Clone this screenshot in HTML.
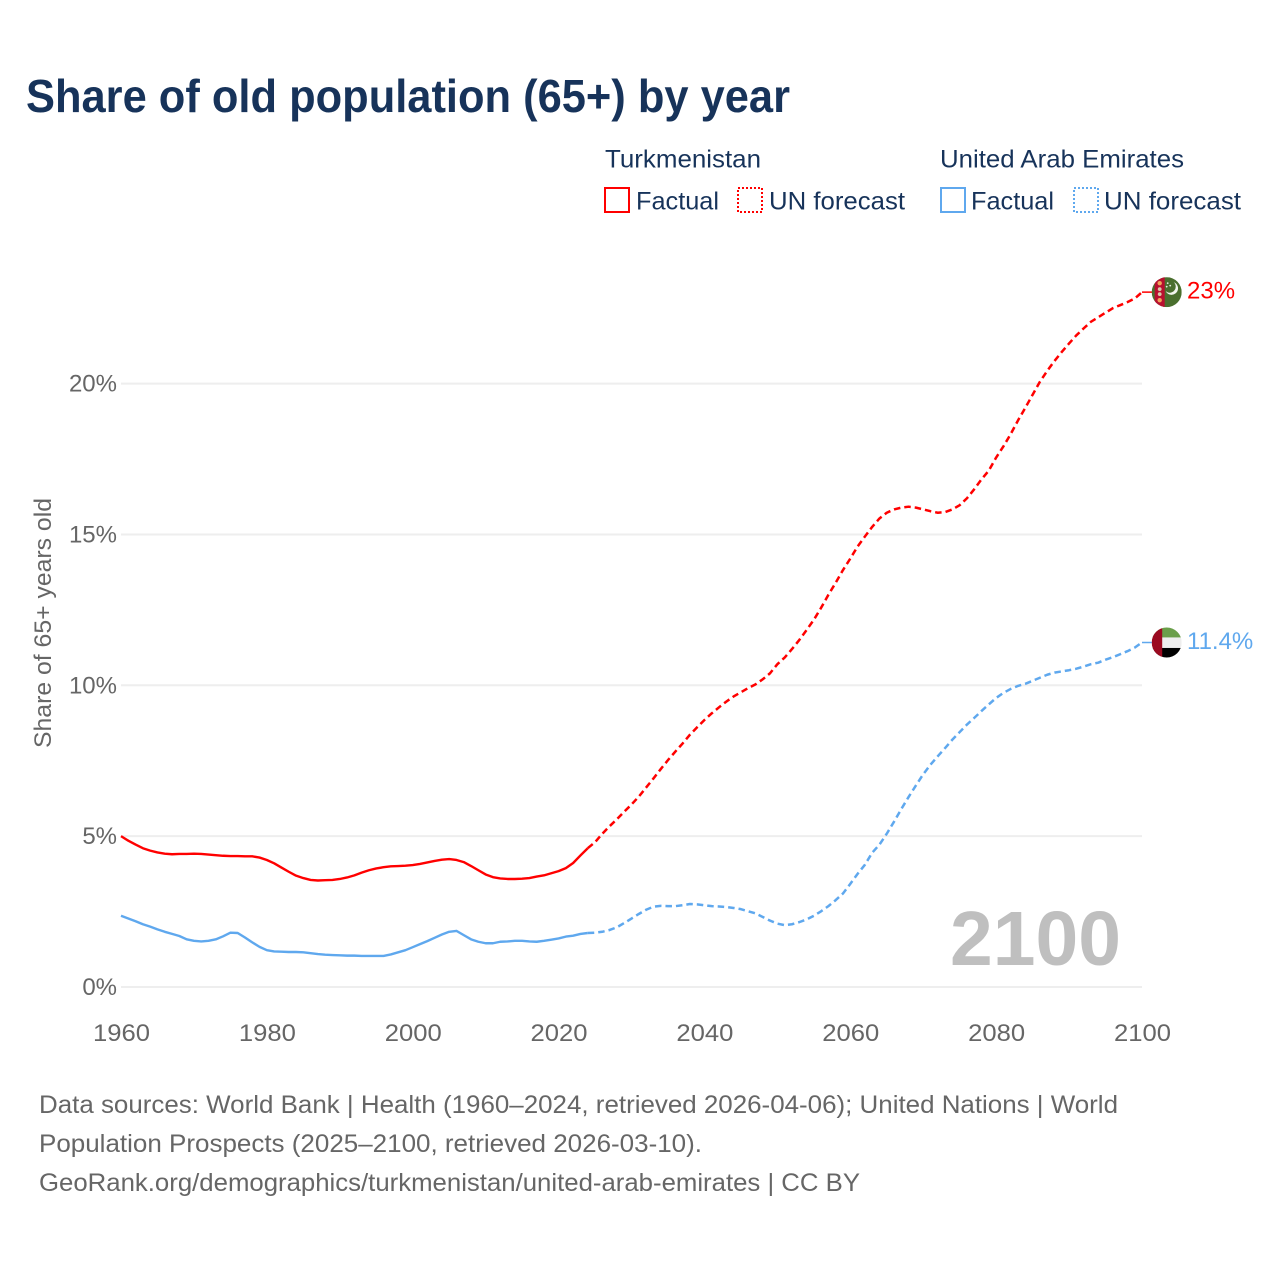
<!DOCTYPE html>
<html lang="en">
<head>
<meta charset="utf-8">
<title>Share of old population (65+) by year</title>
<style>
  html, body { margin: 0; padding: 0; background: #ffffff; }
  body { width: 1280px; height: 1280px; overflow: hidden; }
  svg { display: block; }
  text { font-family: "Liberation Sans", sans-serif; }
  .navy { fill: #17335a; }
  .grey { fill: #666666; }
</style>
</head>
<body>
<svg id="chart" xmlns="http://www.w3.org/2000/svg" width="1280" height="1280" viewBox="0 0 1280 1280">
  <defs>
    <clipPath id="flag-clip"><circle cx="0" cy="0" r="15"></circle></clipPath>
  </defs>

  <text class="navy" x="26" y="112" font-size="46" font-weight="700" textLength="764" lengthAdjust="spacingAndGlyphs">Share of old population (65+) by year</text>

  <g>
    <text class="navy" x="605" y="167.5" font-size="25" textLength="156" lengthAdjust="spacingAndGlyphs">Turkmenistan</text>
    <text class="navy" x="940" y="167.5" font-size="25" textLength="244" lengthAdjust="spacingAndGlyphs">United Arab Emirates</text>

    <rect x="605" y="188" width="24" height="24" fill="none" stroke="#ff0000" stroke-width="2"></rect>
    <text class="navy" x="636" y="209.5" font-size="25" textLength="83" lengthAdjust="spacingAndGlyphs">Factual</text>
    <rect x="738" y="188" width="24" height="24" fill="none" stroke="#ff0000" stroke-width="2" stroke-dasharray="2 2"></rect>
    <text class="navy" x="769" y="209.5" font-size="25" textLength="136" lengthAdjust="spacingAndGlyphs">UN forecast</text>

    <rect x="941" y="188" width="24" height="24" fill="none" stroke="#5fa8ee" stroke-width="2"></rect>
    <text class="navy" x="971" y="209.5" font-size="25" textLength="83" lengthAdjust="spacingAndGlyphs">Factual</text>
    <rect x="1074" y="188" width="24" height="24" fill="none" stroke="#5fa8ee" stroke-width="2" stroke-dasharray="2 2"></rect>
    <text class="navy" x="1104" y="209.5" font-size="25" textLength="137" lengthAdjust="spacingAndGlyphs">UN forecast</text>
  </g>

  <text class="grey" transform="translate(51 748) rotate(-90)" x="0" y="0" font-size="24" textLength="250" lengthAdjust="spacingAndGlyphs">Share of 65+ years old</text>

  <g id="grid-layer"></g>
  <g id="y-tick-layer"></g>
  <g id="x-tick-layer"></g>

  <text x="950" y="965" font-size="77" font-weight="700" fill="#bfbfbf" textLength="171" lengthAdjust="spacingAndGlyphs">2100</text>

  <g id="series-layer"></g>

  <g id="flag-turkmenistan">
    <g clip-path="url(#flag-clip)">
      <rect x="-15" y="-15" width="30" height="30" fill="#4a6f2e"></rect>
      <rect x="-12" y="-15" width="10" height="30" fill="#b8102f"></rect>
      <circle cx="-7" cy="-9" r="2.2" fill="#f0a35a"></circle>
      <circle cx="-7" cy="-3" r="1.9" fill="#d9c7a8"></circle>
      <circle cx="-7" cy="2" r="1.9" fill="#d9c7a8"></circle>
      <circle cx="-7" cy="8" r="2.2" fill="#f0a35a"></circle>
      <path d="M7 -10 A6.5 6.5 0 1 1 -1 -1 A6 6 0 0 0 7 -10 Z" fill="#f2f5ee"></path>
      <circle cx="1" cy="-9" r="0.9" fill="#e6ece0"></circle>
      <circle cx="3.5" cy="-6.5" r="0.9" fill="#e6ece0"></circle>
      <circle cx="0" cy="-5.5" r="0.9" fill="#e6ece0"></circle>
    </g>
  </g>

  <g id="flag-uae">
    <g clip-path="url(#flag-clip)">
      <rect x="-15" y="-15" width="30" height="10" fill="#6a9f4a"></rect>
      <rect x="-15" y="-5" width="30" height="10.5" fill="#eeeeee"></rect>
      <rect x="-15" y="5.5" width="30" height="10" fill="#000000"></rect>
      <rect x="-15" y="-15" width="10.5" height="30" fill="#9b0a20"></rect>
    </g>
  </g>

  <g id="end-label-layer"></g>

  <g>
    <text class="grey" x="39" y="1113" font-size="25" textLength="1079" lengthAdjust="spacingAndGlyphs">Data sources: World Bank | Health (1960–2024, retrieved 2026-04-06); United Nations | World</text>
    <text class="grey" x="39" y="1152" font-size="25" textLength="663" lengthAdjust="spacingAndGlyphs">Population Prospects (2025–2100, retrieved 2026-03-10).</text>
    <text class="grey" x="39" y="1191" font-size="25" textLength="821" lengthAdjust="spacingAndGlyphs">GeoRank.org/demographics/turkmenistan/united-arab-emirates | CC BY</text>
  </g>
</svg>

<script>
const xTickYears = [1960, 1980, 2000, 2020, 2040, 2060, 2080, 2100];
const yTickValues = [0, 5, 10, 15, 20];
const yTickLabels = ["0%", "5%", "10%", "15%", "20%"];
const factualStartYear = 1960;
const forecastStartYear = 2024;
const turkmenistanFactual = [
  5.00, 4.85, 4.72, 4.60, 4.52, 4.46, 4.42, 4.40, 4.41, 4.41,
  4.42, 4.41, 4.39, 4.37, 4.35, 4.34, 4.34, 4.33, 4.33, 4.29,
  4.21, 4.10, 3.96, 3.82, 3.69, 3.61, 3.55, 3.53, 3.54, 3.55,
  3.58, 3.63, 3.70, 3.79, 3.87, 3.93, 3.97, 4.00, 4.01, 4.02,
  4.04, 4.08, 4.13, 4.18, 4.22, 4.24, 4.21, 4.14, 4.01, 3.87,
  3.73, 3.64, 3.60, 3.58, 3.58, 3.59, 3.61, 3.66, 3.70, 3.77,
  3.84, 3.94, 4.11, 4.36, 4.60
];
const turkmenistanForecast = [
  4.60, 4.80, 5.08, 5.33, 5.56, 5.81, 6.05, 6.31, 6.61, 6.91,
  7.22, 7.52, 7.80, 8.07, 8.36, 8.61, 8.85, 9.07, 9.27, 9.46,
  9.63, 9.77, 9.91, 10.03, 10.20, 10.40, 10.70, 10.92, 11.20, 11.50,
  11.83, 12.17, 12.57, 13.00, 13.40, 13.82, 14.20, 14.60, 14.93, 15.25,
  15.53, 15.72, 15.83, 15.89, 15.92, 15.89, 15.83, 15.77, 15.72, 15.74,
  15.83, 15.97, 16.20, 16.50, 16.83, 17.12, 17.55, 17.92, 18.33, 18.78,
  19.20, 19.63, 20.06, 20.42, 20.75, 21.05, 21.33, 21.60, 21.83, 22.05,
  22.20, 22.35, 22.50, 22.60, 22.70, 22.82, 23.03
];
const uaeFactual = [
  2.36, 2.27, 2.18, 2.08, 2.00, 1.91, 1.83, 1.76, 1.69, 1.58,
  1.53, 1.51, 1.53, 1.58, 1.68, 1.80, 1.79, 1.64, 1.48, 1.33,
  1.22, 1.18, 1.17, 1.16, 1.16, 1.15, 1.12, 1.09, 1.07, 1.06,
  1.05, 1.04, 1.04, 1.03, 1.03, 1.03, 1.03, 1.08, 1.15, 1.22,
  1.32, 1.42, 1.52, 1.63, 1.74, 1.83, 1.86, 1.72, 1.58, 1.50,
  1.45, 1.45, 1.50, 1.51, 1.53, 1.53, 1.51, 1.50, 1.53, 1.57,
  1.61, 1.67, 1.70, 1.76, 1.79
];
const uaeForecast = [
  1.79, 1.80, 1.83, 1.89, 1.98, 2.12, 2.27, 2.42, 2.56, 2.66,
  2.69, 2.68, 2.68, 2.71, 2.75, 2.74, 2.71, 2.68, 2.67, 2.65,
  2.62, 2.58, 2.51, 2.44, 2.32, 2.20, 2.10, 2.05, 2.08, 2.15,
  2.24, 2.36, 2.51, 2.68, 2.88, 3.10, 3.42, 3.75, 4.05, 4.45,
  4.72, 5.08, 5.48, 5.90, 6.30, 6.68, 7.05, 7.37, 7.65, 7.92,
  8.20, 8.45, 8.70, 8.92, 9.15, 9.37, 9.58, 9.75, 9.88, 9.98,
  10.05, 10.15, 10.25, 10.35, 10.42, 10.46, 10.50, 10.55, 10.62, 10.70,
  10.75, 10.85, 10.93, 11.03, 11.13, 11.25, 11.42
];
const turkmenistanEndLabel = "23%";
const uaeEndLabel = "11.4%";

const SVG_NS = "http://www.w3.org/2000/svg";
const RED = "#ff0000";
const BLUE = "#5fa8ee";
const FLAG_X = 1166.7;

function xScale(year) {
  return 121 + (year - 1960) * (1142 - 121) / 140;
}
function yScale(value) {
  return 987 - value * 30.17;
}
function pathFrom(values, startYear) {
  return values.map(function (v, i) {
    return (i === 0 ? "M" : "L") + xScale(startYear + i).toFixed(2) + " " + yScale(v).toFixed(2);
  }).join(" ");
}

const gridLayer = document.getElementById("grid-layer");
const yTickLayer = document.getElementById("y-tick-layer");
const xTickLayer = document.getElementById("x-tick-layer");
const seriesLayer = document.getElementById("series-layer");
const endLabelLayer = document.getElementById("end-label-layer");

yTickValues.forEach(function (value, i) {
  const line = document.createElementNS(SVG_NS, "line");
  
  
  line.setAttribute("x1", xScale(1960));
  line.setAttribute("x2", xScale(2100));
  line.setAttribute("y1", yScale(value));
  line.setAttribute("y2", yScale(value));
  line.setAttribute("stroke", "#eeeeee");
  line.setAttribute("stroke-width", "2");
  gridLayer.appendChild(line);

  const label = document.createElementNS(SVG_NS, "text");
  
  
  label.setAttribute("x", "117");
  label.setAttribute("y", yScale(value) + 8);
  label.setAttribute("text-anchor", "end");
  label.setAttribute("font-size", "24");
  label.setAttribute("class", "grey");
  label.textContent = yTickLabels[i];
  yTickLayer.appendChild(label);
});

xTickYears.forEach(function (year) {
  const label = document.createElementNS(SVG_NS, "text");
  
  
  label.setAttribute("x", xScale(year) - 28);
  label.setAttribute("y", "1041");
  label.setAttribute("font-size", "24");
  label.setAttribute("textLength", "57");
  label.setAttribute("lengthAdjust", "spacingAndGlyphs");
  label.setAttribute("class", "grey");
  label.textContent = String(year);
  xTickLayer.appendChild(label);
});

function leaderLine(values, color, name) {
  const y = yScale(values[values.length - 1]);
  const line = document.createElementNS(SVG_NS, "line");
  
  
  line.setAttribute("x1", xScale(2100));
  line.setAttribute("x2", FLAG_X);
  line.setAttribute("y1", y);
  line.setAttribute("y2", y);
  line.setAttribute("stroke", color);
  line.setAttribute("stroke-width", "1.5");
  seriesLayer.appendChild(line);
}

function drawFactual(values, color, name) {
  const path = document.createElementNS(SVG_NS, "path");
  
  
  path.setAttribute("d", pathFrom(values, factualStartYear));
  path.setAttribute("fill", "none");
  path.setAttribute("stroke", color);
  path.setAttribute("stroke-width", "2.4");
  path.setAttribute("stroke-linejoin", "round");
  seriesLayer.appendChild(path);
}

function drawForecast(values, color, name) {
  const path = document.createElementNS(SVG_NS, "path");
  
  
  path.setAttribute("d", pathFrom(values, forecastStartYear));
  path.setAttribute("fill", "none");
  path.setAttribute("stroke", color);
  path.setAttribute("stroke-width", "2.5");
  path.setAttribute("stroke-linejoin", "round");
  path.setAttribute("stroke-dasharray", "6.5 4");
  seriesLayer.appendChild(path);
}

function drawEndLabel(values, color, text, name) {
  const label = document.createElementNS(SVG_NS, "text");
  
  
  label.setAttribute("x", "1187");
  label.setAttribute("y", yScale(values[values.length - 1]) + 6.5);
  label.setAttribute("font-size", "24");
  label.setAttribute("fill", color);
  label.textContent = text;
  endLabelLayer.appendChild(label);
}

drawFactual(turkmenistanFactual, RED, "turkmenistan-factual-line");
drawForecast(turkmenistanForecast, RED, "turkmenistan-forecast-line");
leaderLine(turkmenistanForecast, RED, "turkmenistan-leader-line");
drawFactual(uaeFactual, BLUE, "uae-factual-line");
drawForecast(uaeForecast, BLUE, "uae-forecast-line");
leaderLine(uaeForecast, BLUE, "uae-leader-line");

document.getElementById("flag-turkmenistan").setAttribute("transform",
  "translate(" + FLAG_X + " " + yScale(turkmenistanForecast[turkmenistanForecast.length - 1]) + ")");
document.getElementById("flag-uae").setAttribute("transform",
  "translate(" + FLAG_X + " " + yScale(uaeForecast[uaeForecast.length - 1]) + ")");

drawEndLabel(turkmenistanForecast, RED, turkmenistanEndLabel, "turkmenistan-end-value");
drawEndLabel(uaeForecast, BLUE, uaeEndLabel, "uae-end-value");
</script>
</body>
</html>
